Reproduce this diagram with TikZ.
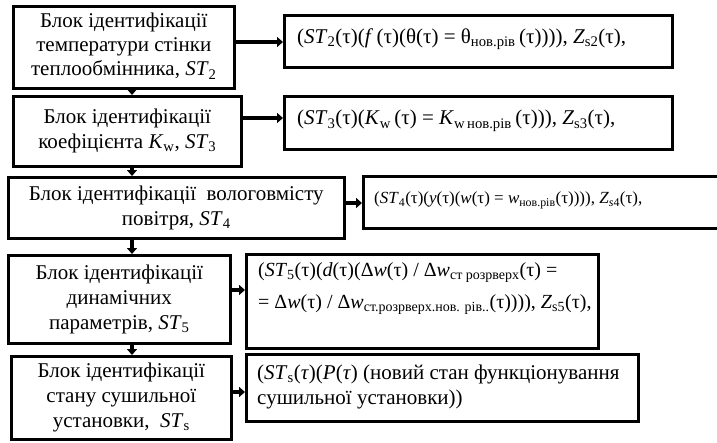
\documentclass[tikz,border=0pt]{standalone}
\usepackage{fontspec}
\setmainfont{Liberation Serif}
\usetikzlibrary{arrows.meta}
\newcommand{\sbx}[1]{\textsubscript{#1}}
\begin{document}
\begin{tikzpicture}[x=1pt,y=-1pt,
  box/.style={draw,line width=2.6pt,inner sep=0pt,anchor=north west},
  arr/.style={line width=4.5pt,-{Triangle[length=6pt,width=10pt]}},
  lt/.style={font=\fontsize{21}{24}\selectfont,align=center,inner sep=0pt},
  rt/.style={font=\fontsize{21}{25}\selectfont,align=left,inner sep=0pt},
  rs/.style={font=\fontsize{17}{25}\selectfont,align=left,inner sep=0pt}]
\useasboundingbox (0,0) rectangle (717,442);
\begin{scope}
\clip (0,0) rectangle (717,442);
% left boxes
\node[box,minimum width=221pt,minimum height=82pt] (l1) at (12,5) {};
\node[box,minimum width=228pt,minimum height=70pt] (l2) at (12,95) {};
\node[box,minimum width=336pt,minimum height=61pt] (l3) at (7,176) {};
\node[box,minimum width=222pt,minimum height=88pt] (l4) at (7,254) {};
\node[box,minimum width=220pt,minimum height=83pt] (l5) at (10,355) {};
% right boxes
\node[box,minimum width=388pt,minimum height=52pt] (r1) at (283,14) {};
\node[box,minimum width=388pt,minimum height=53pt] (r2) at (283,95) {};
\node[box,minimum width=370pt,minimum height=52pt] (r3) at (362,175) {};
\node[box,minimum width=352pt,minimum height=94pt] (r4) at (245,253) {};
\node[box,minimum width=392pt,minimum height=67pt] (r5) at (245,353) {};
% left texts
\node[lt] (t1) at ([yshift=1pt]l1.center) {Блок ідентифікації\\температури стінки\\теплообмінника, \textit{ST}\sbx{2}};
\node[lt,font=\fontsize{21}{25}\selectfont] (t2) at (l2.center) {Блок ідентифікації\\коефіцієнта \textit{K}\sbx{w}, \textit{ST}\sbx{3}};
\node[lt,font=\fontsize{21}{25}\selectfont] (t3) at (l3.center) {Блок ідентифікації\ \ вологовмісту\\повітря, \textit{ST}\sbx{4}};
\node[lt,font=\fontsize{21}{25}\selectfont] (t4) at (l4.center) {Блок ідентифікації\\динамічних\\параметрів, \textit{ST}\sbx{5}};
\node[lt,font=\fontsize{21}{25}\selectfont] (t5) at (l5.center) {Блок ідентифікації\\стану сушильної\\установки,\ \ \textit{ST}\sbx{s}};
% right texts
\node[rt,anchor=west] (f1) at ([xshift=14pt,yshift=2pt]r1.west) {(\textit{ST}\sbx{2}(τ)(\textit{f}\,(τ)(θ(τ) = θ\sbx{нов.рів}\,(τ)))), \textit{Z}\sbx{s2}(τ),};
\node[rt,anchor=west] (f2) at ([xshift=14pt,yshift=2pt]r2.west) {(\textit{ST}\sbx{3}(τ)(\textit{K}\sbx{w}\,(τ) = \textit{K}\sbx{w\,нов.рів}\,(τ))), \textit{Z}\sbx{s3}(τ),};
\node[rs,anchor=west] (f3) at ([xshift=12pt,yshift=2pt]r3.west) {(\textit{ST}\sbx{4}(τ)(\textit{y}(τ)(\textit{w}(τ) = \textit{w}\sbx{нов.рів}(τ)))), \textit{Z}\sbx{\textit{s}4}(τ),};
\node[rs,anchor=north west,font=\fontsize{20}{32}\selectfont] (f4) at ([xshift=13pt,yshift=-9pt]r4.north west) {(\textit{ST}\sbx{5}(τ)(\textit{d}(τ)(Δ\textit{w}(τ) / Δ\textit{w}\sbx{ст розрверх}(τ) =\\= Δ\textit{w}(τ) / Δ\textit{w}\sbx{ст.розрверх.нов. рів..}(τ)))), \textit{Z}\sbx{s5}(τ),};
\node[rt,anchor=west] (f5) at ([xshift=12pt,yshift=1pt]r5.west) {(\textit{ST}\sbx{s}(\textit{τ})(\textit{P}(\textit{τ}) (новий стан функціонування\\сушильної установки))};
% coordinates
\coordinate (vx) at (132,0);
\coordinate (y1) at (0,42);
\coordinate (y2) at (0,118);
\coordinate (y3) at (0,203);
\coordinate (y4) at (0,290);
\coordinate (y5) at (0,392);
% arrows
\draw[arr] (l1.east |- y1) -- (r1.west |- y1);
\draw[arr] (l2.east |- y2) -- (r2.west |- y2);
\draw[arr] (l3.east |- y3) -- (r3.west |- y3);
\draw[arr] (l4.east |- y4) -- (r4.west |- y4);
\draw[arr] (l5.east |- y5) -- (r5.west |- y5);
\draw[arr] (l1.south -| vx) -- (l2.north -| vx);
\draw[arr] (l2.south -| vx) -- (l3.north -| vx);
\draw[arr] (l3.south -| vx) -- (l4.north -| vx);
\draw[arr] (l4.south -| vx) -- (l5.north -| vx);
\end{scope}
\end{tikzpicture}
\end{document}
